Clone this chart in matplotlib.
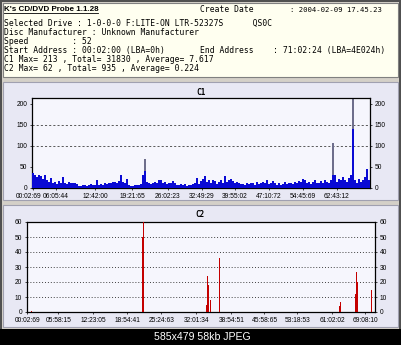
import numpy as np
import matplotlib
matplotlib.use('Agg')
import matplotlib.pyplot as plt
from matplotlib.patches import Rectangle
from matplotlib.lines import Line2D
from matplotlib.transforms import ScaledTranslation

plt.rcParams['font.family'] = 'Liberation Sans'

W, H = 402, 345


def fx(x):
    return x / W


def fy(y):
    return 1 - y / H


# C1 error counts, one value per 2 px column of the plot
c1 = [35, 30, 26, 32, 28, 22, 30, 18, 14, 24,
      12, 15, 9, 16, 11, 26, 13, 10, 14, 12,
      11, 13, 9, 5, 4, 6, 8, 5, 7, 9,
      6, 8, 19, 7, 9, 8, 11, 10, 13, 12,
      15, 14, 12, 16, 32, 14, 12, 22, 6, 4,
      5, 7, 6, 8, 10, 30, 70, 14, 11, 9,
      12, 15, 13, 18, 20, 12, 14, 10, 13, 11,
      16, 12, 8, 6, 9, 7, 10, 5, 8, 6,
      9, 12, 24, 10, 17, 22, 28, 15, 20, 12,
      18, 16, 10, 14, 19, 12, 28, 14, 18, 22,
      16, 12, 15, 11, 9, 10, 8, 12, 9, 13,
      11, 8, 14, 10, 12, 15, 12, 18, 10, 13,
      16, 11, 8, 12, 6, 10, 14, 9, 11, 13,
      10, 15, 12, 16, 14, 22, 20, 12, 15, 10,
      14, 18, 11, 13, 16, 12, 20, 14, 11, 18,
      108, 30, 15, 22, 18, 25, 20, 14, 24, 30,
      213, 18, 12, 22, 15, 20, 25, 45, 20]
# spikes whose blue part is lower than the grey peak
c1_spike_idx = [56, 150, 160]
c1_spike_blue = [40, 30, 140]

c1_tick_pos = [0, 11.5, 31, 49.5, 67.5, 84.5, 101, 118, 135, 152]
c1_tick_lbl = ['00:02:69', '06:05:44', '12:42:00', '19:21:65', '26:02:23',
               '32:49:29', '39:55:02', '47:10:72', '54:45:69', '62:43:12']

# C2 errors: nonzero samples only (1 px per sample, 348 samples)
c2_n = 348
c2_idx = [4, 115, 116, 179, 180, 181, 183, 192, 312, 313, 328, 329, 330, 344]
c2_val = [1, 50, 62, 5, 24, 18, 8, 36, 4, 7, 12, 27, 20, 15]

c2_tick_pos = [0, 31, 66, 100, 134, 169, 204, 237, 270, 305, 338]
c2_tick_lbl = ['00:02:69', '05:58:15', '12:23:05', '18:54:41', '25:24:63',
               '32:01:34', '38:54:51', '45:58:65', '53:18:53', '61:02:02',
               '69:08:10']

info_lines = [
    "Selected Drive : 1-0-0-0 F:LITE-ON LTR-52327S      QS0C",
    "Disc Manufacturer : Unknown Manufacturer",
    "Speed         : 52",
    "Start Address : 00:02:00 (LBA=0h)",
    "C1 Max= 213 , Total= 31830 , Average= 7.617",
    "C2 Max= 62 , Total= 935 , Average= 0.224",
]
info_y = [23.5, 32.5, 41.5, 50.5, 59.5, 68.5]

fig = plt.figure(figsize=(W / 100, H / 100), dpi=100)
fig.patch.set_facecolor('#d4d0c8')


def box(x0, y0, x1, y1, fc, ec='none', lw=0):
    r = Rectangle((fx(x0), fy(y1)), fx(x1) - fx(x0), fy(y0) - fy(y1),
                  transform=fig.transFigure, facecolor=fc, edgecolor=ec,
                  linewidth=lw, zorder=-2)
    fig.patches.append(r)


# outer frame + panels
box(0, 0, 402, 345, '#505050')
box(2, 2, 399, 329, '#d4d0c8')
box(3, 3, 398, 77, '#fffff0', '#808080', 0.8)
box(3, 82, 398, 200, '#e8e8f4', '#a0a0b0', 0.8)
box(3, 205, 398, 327, '#e8e8f4', '#a0a0b0', 0.8)
box(0, 329, 402, 345, '#000000')

# header
fig.text(fx(4), fy(9.5), "K's CD/DVD Probe 1.1.28", fontsize=5.8,
         weight='bold', va='center', ha='left')
fig.add_artist(Line2D([fx(4), fx(98)], [fy(12.5), fy(12.5)], color='black',
                      lw=0.6))
fig.text(fx(200), fy(9.5), "Create Date", family='DejaVu Sans Mono',
         fontsize=5.8, va='center')
fig.text(fx(290), fy(9.5), ": 2004-02-09 17.45.23", family='DejaVu Sans Mono',
         fontsize=5.2, va='center')
for line, y in zip(info_lines, info_y):
    fig.text(fx(4), fy(y), line, family='DejaVu Sans Mono', fontsize=5.8,
             va='center', ha='left', color='black')
fig.text(fx(200), fy(50.5), "End Address    : 71:02:24 (LBA=4E024h)",
         family='DejaVu Sans Mono', fontsize=5.8, va='center', ha='left')

# C1 chart
ax1 = fig.add_axes([fx(32), fy(188), (370 - 32) / W, (188 - 98) / H])
ax1.set_facecolor('#f6f6fd')
x1 = np.arange(len(c1))
blue = list(c1)
for i, b in zip(c1_spike_idx, c1_spike_blue):
    blue[i] = b
ax1.bar(x1, c1, width=1.0, color='#6e6e8c', linewidth=0, zorder=2)
ax1.bar(x1, blue, width=1.0, color='#0a0ad4', linewidth=0, zorder=3)
for gy in [100, 150]:
    ax1.axhline(gy, color='#404040', lw=0.6, ls=(0, (2.5, 2.5)), zorder=1)
ax1.set_xlim(-0.5, len(c1) - 0.5)
ax1.set_ylim(0, 214)
ax1.set_yticks([0, 50, 100, 150, 200])
ax1.set_xticks(c1_tick_pos, c1_tick_lbl)
fig.text(fx(201), fy(92.5), 'C1', family='DejaVu Sans Mono', weight='bold',
         fontsize=5.5, ha='center', va='center')

# C2 chart
ax2 = fig.add_axes([fx(27), fy(312), (375 - 27) / W, (312 - 222) / H])
ax2.set_facecolor('#f6f6fd')
ax2.bar(c2_idx, c2_val, width=1.4, color='#c40000', linewidth=0, zorder=3)
for gy in [10, 20, 30, 40, 50, 60]:
    ax2.axhline(gy, color='#404040', lw=0.7, ls=(0, (1, 2)), zorder=1)
ax2.set_xlim(-0.5, c2_n - 0.5)
ax2.set_ylim(0, 60)
ax2.set_yticks([0, 10, 20, 30, 40, 50, 60])
ax2.set_xticks(c2_tick_pos, c2_tick_lbl)
fig.text(fx(200), fy(214), 'C2', family='DejaVu Sans Mono', weight='bold',
         fontsize=5.5, ha='center', va='center')

for ax in (ax1, ax2):
    ax.tick_params(labelsize=4.8, length=1.5, width=0.5, pad=2,
                   left=True, right=True, labelleft=True, labelright=True)
    for s in ax.spines.values():
        s.set_linewidth(0.9)
        s.set_color('black')

# first C1 date label sits a little left of the axis start
first = ax1.xaxis.get_major_ticks()[0].label1
first.set_transform(first.get_transform() +
                    ScaledTranslation(-0.04, 0, fig.dpi_scale_trans))

# caption bar
fig.text(fx(202), fy(337), '585x479 58kb JPEG', color='white', fontsize=7.6,
         ha='center', va='center')

fig.savefig('out.png', dpi=100, facecolor=fig.get_facecolor())
